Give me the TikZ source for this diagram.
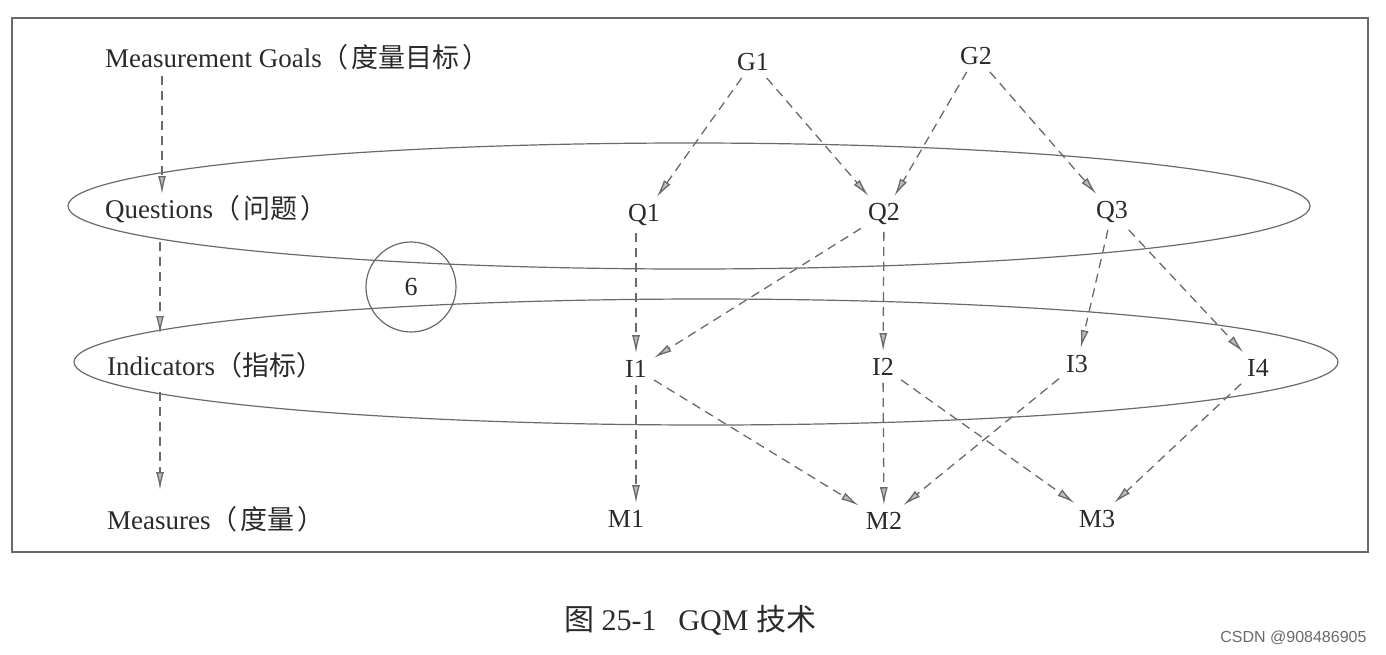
\documentclass[tikz,border=0pt]{standalone}
\usepackage{fontspec}
\setmainfont{Liberation Serif}
\newfontfamily\cjk{Noto Sans CJK SC}
\newfontfamily\wmfont{Liberation Sans}
\usetikzlibrary{arrows.meta}
\definecolor{ink}{HTML}{2A2A2A}
\definecolor{lineg}{HTML}{6A6A6A}
\newcommand{\cjkp}[1]{{\cjk （\hspace{3pt}#1\hspace{3pt}）}}
\tikzset{
  lbl/.style={anchor=west, inner sep=0pt, text=ink, font=\fontsize{27}{31}\selectfont},
  nd/.style={inner sep=7pt, text=ink, font=\fontsize{26}{30}\selectfont},
  darr/.style={draw=lineg, line width=1.3pt, dash pattern=on 9pt off 6pt,
    -{Latex[length=18pt,width=8pt,fill=lineg!45]}},
  ring/.style={draw=lineg, line width=1.2pt},
}
\begin{document}
\begin{tikzpicture}[x=1pt,y=-1pt]
\useasboundingbox (0,0) rectangle (1386,654);
% frame
\draw[draw=lineg, line width=1.5pt] (12,18) rectangle (1368,552);
% ellipses
\draw[ring] (689,206) ellipse [x radius=621, y radius=63];
\draw[ring] (706,362) ellipse [x radius=632, y radius=63];
\node[ring, circle, minimum size=90pt, inner sep=0pt, text=ink, font=\fontsize{26}{30}\selectfont] (six) at (411,287) {6};
% left labels
\node[lbl] (goals) at (105,57) {Measurement Goals\cjkp{度量目标}};
\node[lbl] (quest) at (105,209) {Questions\cjkp{问题}};
\node[lbl] (indic) at (107,365) {Indicators{\cjk （指标）}};
\node[lbl] (meas) at (107,519) {Measures\cjkp{度量}};
\coordinate (a1s) at (162,76);
\coordinate (a1e) at (162,194);
\coordinate (a2s) at (160,242);
\coordinate (a2e) at (160,334);
\coordinate (a3s) at (160,392);
\coordinate (a3e) at (160,490);
\draw[darr] (a1s) -- (a1e);
\draw[darr] (a2s) -- (a2e);
\draw[darr] (a3s) -- (a3e);
% nodes
\node[nd] (G1) at (753,62) {G1};
\node[nd] (G2) at (976,56) {G2};
\node[nd] (Q1) at (644,215) {Q1};
\node[nd] (Q2) at (884,214) {Q2};
\node[nd] (Q3) at (1112,212) {Q3};
\node[nd] (I1) at (636,369) {I1};
\node[nd] (I2) at (883,367) {I2};
\node[nd] (I3) at (1077,364) {I3};
\node[nd] (I4) at (1258,368) {I4};
\node[nd] (M1) at (626,519) {M1};
\node[nd] (M2) at (884,521) {M2};
\node[nd] (M3) at (1097,519) {M3};
% edges
\draw[darr] (G1) -- (Q1);
\draw[darr] (G1) -- (Q2);
\draw[darr] (G2) -- (Q2);
\draw[darr] (G2) -- (Q3);
\draw[darr] (I1.north |- Q1.south) -- (I1.north);
\draw[darr] (Q2) -- (I1);
\draw[darr] (Q2) -- (I2);
\draw[darr] (Q3) -- (I3);
\draw[darr] (Q3) -- (I4);
\draw[darr] (I1.south) -- (I1.south |- M1.north);
\draw[darr] (I1) -- (M2);
\draw[darr] (I2) -- (M2);
\draw[darr] (I2) -- (M3);
\draw[darr] (I3) -- (M2);
\draw[darr] (I4) -- (M3);
% caption
\node[text=ink, font=\fontsize{30}{34}\selectfont] (cap) at (690,620) {{\cjk 图} 25-1\hspace{22pt}GQM {\cjk 技术}};
\node[anchor=east, text=lineg, font=\wmfont\fontsize{16}{18}\selectfont] (wm) at (1370,638) {CSDN @908486905};
\end{tikzpicture}
\end{document}
